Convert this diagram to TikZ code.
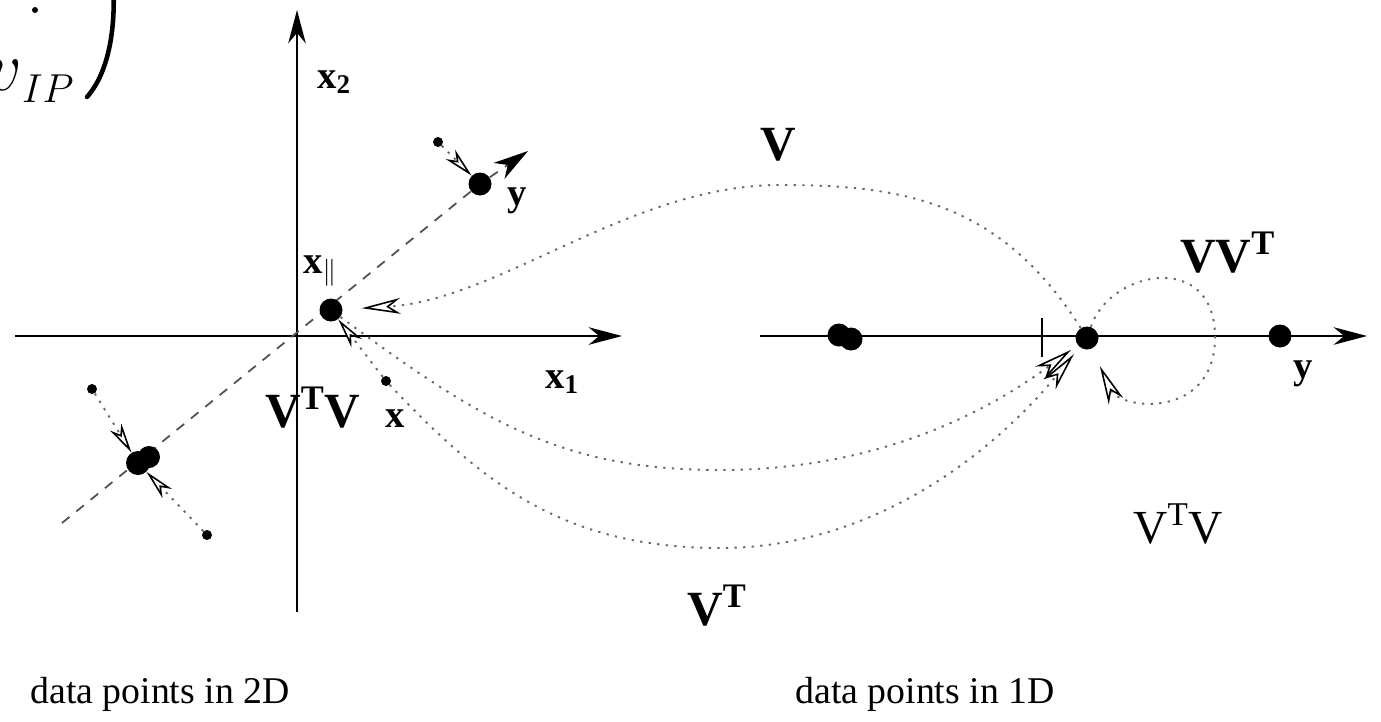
\documentclass[tikz,border=0pt]{standalone}
\usepackage{fix-cm}
\usepackage{fontspec}
\setmainfont{Liberation Serif}
\usetikzlibrary{arrows.meta, positioning, calc}
\definecolor{dotgray}{RGB}{105,105,105}
\definecolor{dashgray}{RGB}{80,80,80}

\tikzset{
  axis/.style={line width=1pt, -{Stealth[length=19pt, width=10pt, inset=6pt]}},
  bigdot/.style={circle, fill=black, inner sep=0pt, minimum size=0.46cm},
  smalldot/.style={circle, fill=black, inner sep=0pt, minimum size=0.2cm},
  dashline/.style={dashgray, line width=1pt, dash pattern=on 5.5pt off 5pt},
  proj/.style={dotgray, line width=1.1pt, dash pattern=on 1.3pt off 3.6pt,
    -{Stealth[length=17pt, width=7.5pt, inset=5pt, color=black, fill=white, line width=0.9pt]}},
  mapto/.style={dotgray, line width=1.1pt, dash pattern=on 1.3pt off 3.6pt,
    -{Stealth[length=22pt, width=9pt, inset=6.5pt, color=black, fill=white, line width=0.9pt]}},
  lbl/.style={inner sep=0pt, anchor=base west, font=\fontsize{22}{26}\selectfont\bfseries},
  maplbl/.style={inner sep=0pt, anchor=base west, font=\fontsize{28}{32}\selectfont\bfseries},
  caption/.style={inner sep=0pt, anchor=base west, font=\fontsize{21.5}{26}\selectfont}
}

\begin{document}
\begin{tikzpicture}[x=0.02cm, y=-0.02cm]
  \useasboundingbox (0,0) rectangle (1381,721);
  \clip (0,0) rectangle (1381,721);

  % cut-off matrix at the top left
  \fill (35,10) circle (3);
  \node[inner sep=0pt, anchor=base east] (vip) at (74,90)
    {\fontsize{40}{40}\selectfont$v$\raisebox{-0.24cm}{\fontsize{23}{23}\selectfont$IP$}};
  \draw[line width=2.6pt, line cap=round] (113,-20) .. controls (117,40) and (104,78) .. (87,97);

  % axes
  \coordinate (a1lo) at (15,336);
  \coordinate (a1hi) at (622,336);
  \coordinate (a2lo) at (297,612);
  \coordinate (a2hi) at (297,10);
  \coordinate (a3lo) at (760,336);
  \coordinate (a3hi) at (1367,336);
  \draw[axis] (a1lo) -- (a1hi);
  \draw[axis] (a2lo) -- (a2hi);
  \draw[axis] (a3lo) -- (a3hi);
  \coordinate (tlo) at (1042,318);
  \coordinate (thi) at (1042,357);
  \draw[line width=1pt] (tlo) -- (thi);

  % principal direction
  \coordinate (dlo) at (62,523);
  \coordinate (ypos) at (480,184);
  \coordinate (ytip) at (528,151);
  \draw[dashline] (dlo) -- (ypos);

  % data points in 2D
  \node[bigdot] (yp) at (ypos) {};
  \node[bigdot] (xpar) at (331,310) {};
  \node[bigdot, minimum size=0.48cm] (blob) at (138,463) {};
  \node[bigdot, minimum size=0.44cm] (blob2) at (149,457) {};
  \node[smalldot] (ys) at (438,142) {};
  \node[smalldot] (xs) at (386,381) {};
  \node[smalldot] (ps) at (92,389) {};
  \node[smalldot] (qs) at (207,535) {};

  % data points in 1D
  \node[bigdot] (c1) at (839,335) {};
  \node[bigdot] (c2) at (851,339) {};
  \node[bigdot] (y1) at (1087,338) {};
  \node[bigdot] (y2) at (1280,336) {};

  \draw[dashline, -{Stealth[length=20pt, width=11pt, inset=6pt, color=black]}] (yp) -- (ytip);

  % projections
  \draw[proj] (ys) -- (yp);
  \draw[proj] (ps) -- (blob);
  \draw[proj] (qs) -- (blob);
  \draw[proj] (xs) -- (xpar);

  % maps between the spaces
  \draw[mapto, shorten >=0.38cm] (y1) .. controls (1000,200) and (900,185) .. (780,185)
        .. controls (630,185) and (500,300) .. (xpar);
  \draw[mapto, shorten >=0.16cm] (xpar) .. controls (480,420) and (560,470) .. (720,470)
        .. controls (880,470) and (990,410) .. (y1);
  \draw[mapto, shorten >=0.18cm] (xs) .. controls (480,480) and (560,548) .. (720,548)
        .. controls (880,548) and (1000,445) .. (y1);
  \draw[mapto, shorten >=0.38cm] (y1) .. controls (1110,270) and (1215,250) .. (1215,337)
        .. controls (1215,420) and (1120,410) .. (y1);

  % labels
  \node[lbl] (lx2) at (317,88) {x\textsubscript{2}};
  \node[lbl] (lx1) at (545,388) {x\textsubscript{1}};
  \node[lbl] (lxpar) at (303,273) {x$_{\|}$};
  \node[lbl] (ly) at (507,205) {y};
  \node[lbl] (lx) at (385,427) {x};
  \node[lbl] (ly1) at (1293,378) {y};
  \node[maplbl] (lv) at (760,160) {V};
  \node[maplbl] (lvvt) at (1180,272) {VV\textsuperscript{T}};
  \node[maplbl] (lvt) at (687,625) {V\textsuperscript{T}};
  \node[maplbl] (lvtv) at (265,427) {V\textsuperscript{T}V};
  \node[inner sep=0pt, anchor=base west, font=\fontsize{27}{30}\selectfont] (lvtvr) at (1133,543) {V\textsuperscript{T}V};
  \node[caption] (cap2) at (30,703) {data points in 2D};
  \node[caption] (cap1) at (795,703) {data points in 1D};
\end{tikzpicture}
\end{document}
